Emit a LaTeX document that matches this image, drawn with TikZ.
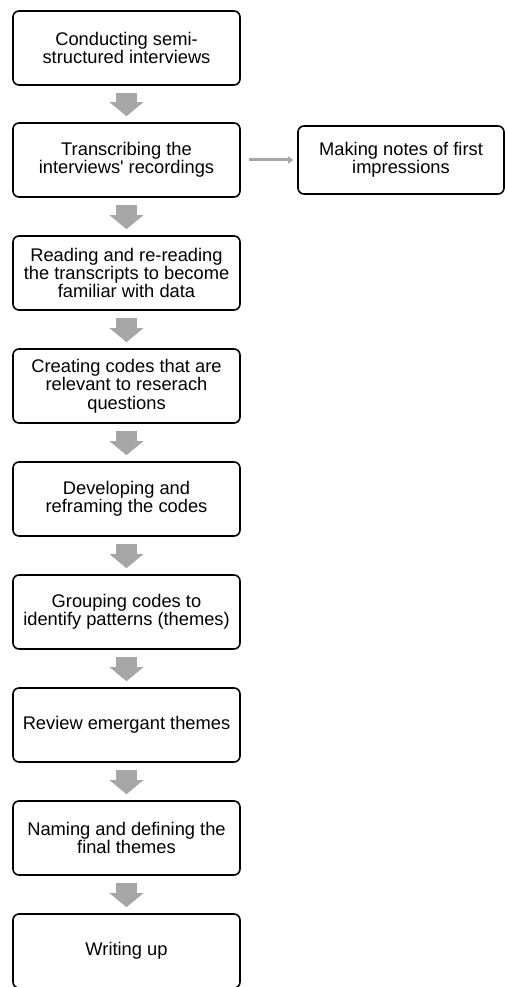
\documentclass[tikz,border=0pt]{standalone}
\usepackage{fontspec}
\setmainfont{Liberation Sans}
\usetikzlibrary{arrows.meta}
\definecolor{arrowgrey}{HTML}{A6A6A6}
\tikzset{
  stepbox/.style={draw, line width=1.6pt, rounded corners=6pt, minimum width=227pt, minimum height=74pt, inner sep=1pt, align=center, font=\fontsize{18.3}{18.3}\selectfont},
  sidebox/.style={stepbox, minimum width=206pt, minimum height=68pt},
  flow/.style={draw=arrowgrey, line width=21pt, -{Triangle[width=33pt,length=14pt]}, shorten <=7pt, shorten >=6pt},
  note/.style={draw=arrowgrey, line width=3pt, -{Triangle[width=7pt,length=5pt]}, shorten <=8pt, shorten >=4pt}
}
\begin{document}
\begin{tikzpicture}[x=1pt,y=-1pt]
    \useasboundingbox (0,0) rectangle (506,987);

    \node[stepbox] (conducting) at (126.5,48) {Conducting semi-\\structured interviews};
    \node[stepbox] (transcribing) at (126.5,160) {Transcribing the\\interviews\textquotesingle{} recordings};
    \node[sidebox] (notes) at (401,160) {Making notes of first\\impressions};
    \node[stepbox] (reading) at (126.5,273) {Reading and re-reading\\the transcripts to become\\familiar with data};
    \node[stepbox] (creating) at (126.5,386) {Creating codes that are\\relevant to reserach\\questions};
    \node[stepbox] (developing) at (126.5,499) {Developing and\\reframing the codes};
    \node[stepbox] (grouping) at (126.5,612) {Grouping codes to\\identify patterns (themes)};
    \node[stepbox] (review) at (126.5,725) {Review emergant themes};
    \node[stepbox] (naming) at (126.5,838) {Naming and defining the\\final themes};
    \node[stepbox] (writing) at (126.5,951) {Writing up};

    \begin{scope}[flow]
      \draw (conducting) -- (transcribing);
      \draw (transcribing) -- (reading);
      \draw (reading) -- (creating);
      \draw (creating) -- (developing);
      \draw (developing) -- (grouping);
      \draw (grouping) -- (review);
      \draw (review) -- (naming);
      \draw (naming) -- (writing);
    \end{scope}

    \draw[note] (transcribing) -- (notes);
  \end{tikzpicture}
\end{document}
